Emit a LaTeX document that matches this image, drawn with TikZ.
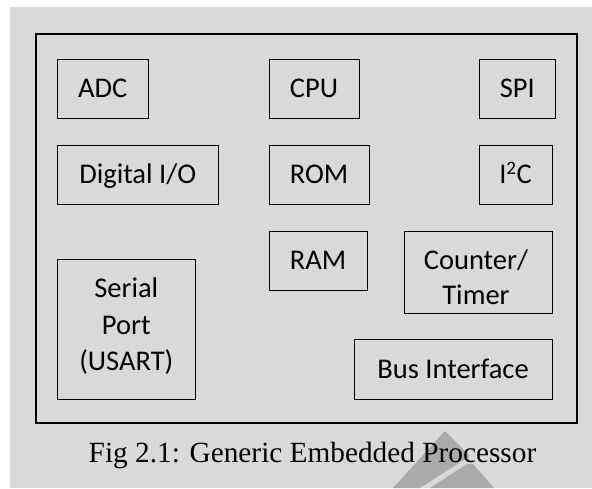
\documentclass[tikz,border=0pt]{standalone}
\usepackage{fontspec}
\newfontfamily\boxfont{Carlito}
\newfontfamily\capfont{Liberation Serif}
\definecolor{panel}{RGB}{217,217,217}
\definecolor{markgray}{RGB}{170,170,170}
\tikzset{
  chipframe/.style={draw=black, line width=2pt, inner sep=0pt},
  unit/.style={draw=black, line width=1pt, inner sep=0pt,
    font=\boxfont\fontsize{28.5}{35}\selectfont,
    text height=18.35pt, text depth=0pt},
  plainbox/.style={draw=black, line width=1pt, inner sep=0pt},
  multitext/.style={inner sep=0pt, anchor=base, align=center},
  caption/.style={inner sep=0pt, anchor=base,
    font=\capfont\fontsize{29.3}{35}\selectfont}
}
\begin{document}
\begin{tikzpicture}[x=1pt,y=-1pt]
  \useasboundingbox (0,0) rectangle (592,488);
  \fill[white] (0,0) rectangle (592,488);
  \fill[panel] (10,7) rectangle (592,488);
  % faint logo stripes behind the caption
  \fill[markgray] (393,488) -- (445,431) -- (470,456) -- (420,488) -- cycle;
  \fill[markgray] (430,488) -- (467,464) -- (473,464) -- (494,488) -- cycle;

  % processor outline
  \node[chipframe, minimum width=540.5pt, minimum height=389pt] (chip) at (306.25,228.5) {};

  % on-chip blocks
  \node[unit, minimum width=90.5pt, minimum height=58.5pt] (adc) at (102.75,88.75) {ADC};
  \node[unit, minimum width=90pt, minimum height=58.5pt] (cpu) at (314,88.75) {CPU};
  \node[unit, minimum width=76.7pt, minimum height=58.5pt] (spi) at (517.35,88.75) {SPI};
  \node[unit, minimum width=160.5pt, minimum height=59pt] (dio) at (137.75,174.5) {Digital I/O};
  \node[unit, minimum width=100pt, minimum height=59pt] (rom) at (319,174.5) {ROM};
  \node[unit, minimum width=73pt, minimum height=59pt] (iic) at (515.5,174.5) {I\textsuperscript{\fontsize{19}{19}\selectfont 2}C};
  \node[unit, minimum width=98pt, minimum height=59pt] (ram) at (318,260.5) {RAM};
  \node[unit, minimum width=198pt, minimum height=60pt] (bus) at (453,369) {Bus Interface};
  \node[plainbox, minimum width=148pt, minimum height=82pt] (ctr) at (478,272) {};
  \node[plainbox, minimum width=137.5pt, minimum height=140pt] (usart) at (126.25,329) {};

  % two- and three-line block labels (anchored on the last line's baseline)
  \node[multitext, font=\boxfont\fontsize{28.5}{34.7}\selectfont] (ctrtext) at (476,304) {Counter/\\Timer};
  \node[multitext, font=\boxfont\fontsize{28.5}{36.7}\selectfont] (usarttext) at (126.3,370.7) {Serial\\Port\\(USART)};

  % figure caption
  \node[caption] (cap) at (312.5,462) {Fig 2.1: Generic Embedded Processor};
\end{tikzpicture}
\end{document}
